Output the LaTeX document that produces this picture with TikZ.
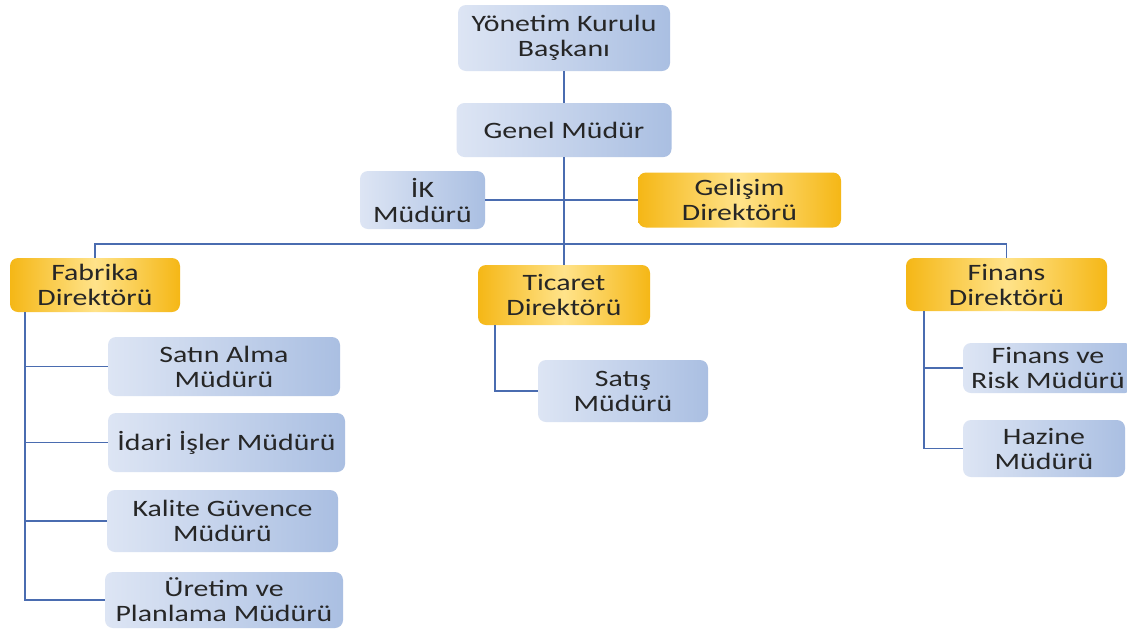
\documentclass[tikz,border=0pt]{standalone}
\usepackage{fontspec}
\setmainfont{Carlito}[FakeStretch=1.27]
\usepackage{tikz}
\definecolor{boxblueL}{HTML}{DDE5F4}
\definecolor{boxblueD}{HTML}{AABFE2}
\definecolor{goldL}{HTML}{FFE38A}
\definecolor{goldD}{HTML}{F5B716}
\definecolor{linkblue}{HTML}{4A6CB0}

\begin{document}
\begin{tikzpicture}[x=1pt,y=-1pt,
		box/.style={rounded corners=8pt, align=center, inner sep=0pt, text=black!85, font=\fontsize{23.5}{25}\selectfont},
		bluebox/.style={box, left color=boxblueL, right color=boxblueD},
		goldbox/.style={box, left color=goldD, right color=goldD, middle color=goldL},
		link/.style={linkblue, line width=1.6pt}]
				\path [fill=white] (0,0) rectangle (1127,630);
				\useasboundingbox (0,0) rectangle (1127,630);
				
				\node [bluebox, minimum width=212, minimum height=66] (baskan) at (564,38) {Yönetim Kurulu\\Başkanı};
				\node [bluebox, minimum width=215, minimum height=54] (genel) at (564,130) {Genel Müdür};
				\node [bluebox, minimum width=125, minimum height=58] (ik) at (422.5,200) {İK\\Müdürü};
				\node [goldbox, minimum width=203, minimum height=55] (gelisim) at (739.5,200) {Gelişim\\Direktörü};
				
				\node [goldbox, minimum width=170, minimum height=54] (fabrika) at (95,285) {Fabrika\\Direktörü};
				\node [goldbox, minimum width=172, minimum height=60] (ticaret) at (564,295) {Ticaret\\Direktörü};
				\node [goldbox, minimum width=201, minimum height=53] (finans) at (1006.5,284.5) {Finans\\Direktörü};
				
				\node [bluebox, minimum width=232, minimum height=59] (satin) at (224,366.5) {Satın Alma\\Müdürü};
				\node [bluebox, minimum width=237, minimum height=59] (idari) at (226.5,442.5) {İdari İşler Müdürü};
				\node [bluebox, minimum width=231, minimum height=62] (kalite) at (222.5,521) {Kalite Güvence\\Müdürü};
				\node [bluebox, minimum width=238, minimum height=56] (uretim) at (224,600) {Üretim ve\\Planlama Müdürü};
				
				\node [bluebox, minimum width=170, minimum height=62] (satis) at (623,391) {Satış\\Müdürü};
				
				\node [bluebox, minimum width=170, minimum height=50] (finrisk) at (1048,368) {Finans ve\\Risk Müdürü};
				\node [bluebox, minimum width=162, minimum height=57] (hazine) at (1044,448.5) {Hazine\\Müdürü};
				
				\coordinate (bus) at (564,244);
				
				\draw [link] (baskan.south) -- (genel.north);
				\draw [link] (genel.south) -- (ticaret.north);
				\draw [link] (ik.east) -- (gelisim.west);
				\draw [link] (fabrika.north) |- (bus) -| (finans.north);
				
				\draw [link] ([xshift=15]fabrika.south west) |- (uretim.west);
				\foreach \n in {satin,idari,kalite}
					\draw [link] ([xshift=15]fabrika.south west |- \n.west) -- (\n.west);
				
				\draw [link] ([xshift=17]ticaret.south west) |- (satis.west);
				
				\draw [link] ([xshift=18]finans.south west) |- (hazine.west);
				\draw [link] ([xshift=18]finans.south west |- finrisk.west) -- (finrisk.west);
\end{tikzpicture}
\end{document}
